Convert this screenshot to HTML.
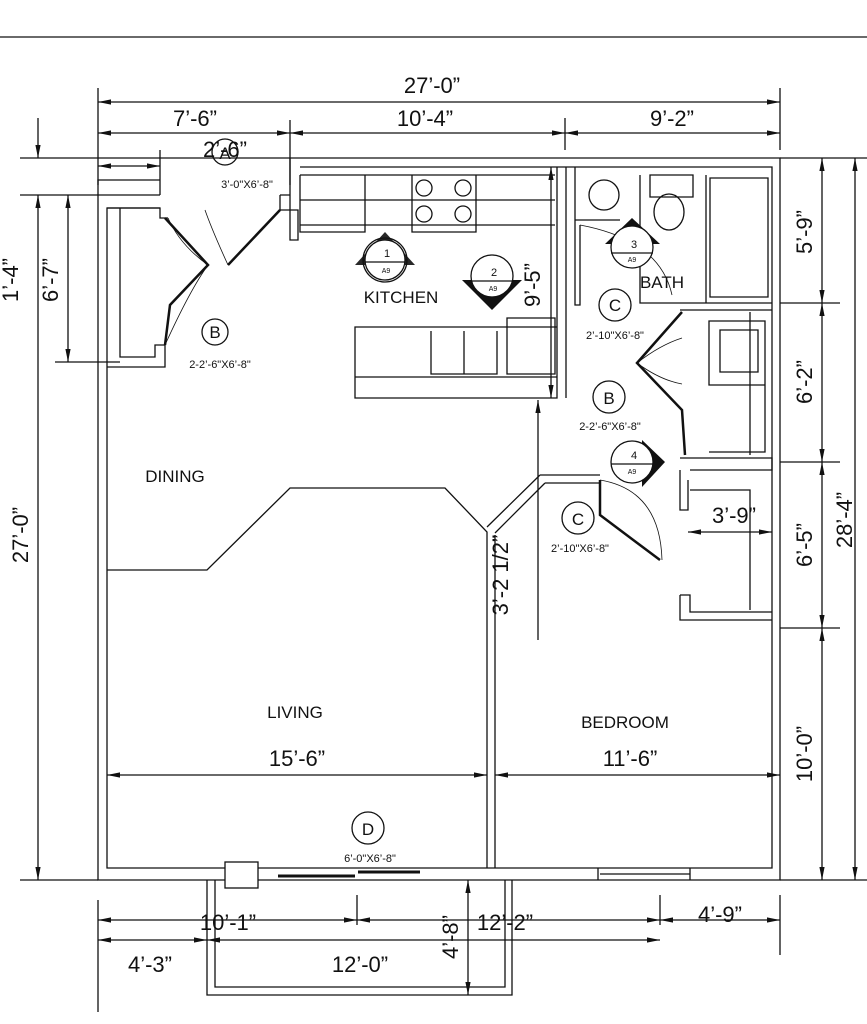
<!DOCTYPE html>
<html><head><meta charset="utf-8"><style>
body{margin:0;background:#fff}
svg{display:block}
text{font-family:"Liberation Sans",sans-serif;fill:#111}
.big{font-size:22px}
.lbl{font-size:17px}
.sm{font-size:11px}
.xs{font-size:7px}
</style></head><body>
<svg width="867" height="1024" viewBox="0 0 867 1024" stroke="#111" fill="none" stroke-width="1.3">
<defs><marker id="a" viewBox="0 0 10 10" refX="10" refY="5" markerWidth="10" markerHeight="10" orient="auto-start-reverse"><path d="M0,3 L10,5 L0,7 Z" fill="#111" stroke="none"/></marker></defs>
<line x1="0" y1="37" x2="867" y2="37"/>
<!-- top dims -->
<line x1="98" y1="88" x2="98" y2="185"/><line x1="780" y1="88" x2="780" y2="150"/>
<line x1="98" y1="102" x2="780" y2="102" marker-start="url(#a)" marker-end="url(#a)"/>
<text x="432" y="93" class="big" text-anchor="middle" stroke="none">27’-0”</text>
<line x1="98" y1="133" x2="290" y2="133" marker-start="url(#a)" marker-end="url(#a)"/>
<line x1="290" y1="133" x2="565" y2="133" marker-start="url(#a)" marker-end="url(#a)"/>
<line x1="565" y1="133" x2="780" y2="133" marker-start="url(#a)" marker-end="url(#a)"/>
<line x1="290" y1="120" x2="290" y2="185"/><line x1="565" y1="118" x2="565" y2="150"/>
<text x="195" y="126" class="big" text-anchor="middle" stroke="none">7’-6”</text>
<text x="425" y="126" class="big" text-anchor="middle" stroke="none">10’-4”</text>
<text x="672" y="126" class="big" text-anchor="middle" stroke="none">9’-2”</text>
<line x1="98" y1="166" x2="160" y2="166" marker-start="url(#a)" marker-end="url(#a)"/>
<line x1="160" y1="150" x2="160" y2="195"/>
<text x="225" y="157" class="big" text-anchor="middle" stroke="none">2’-6”</text>
<circle cx="225" cy="152" r="13"/><text x="225" y="159" class="lbl" text-anchor="middle" stroke="none">A</text>
<text x="247" y="188" class="sm" text-anchor="middle" stroke="none">3’-0"X6’-8"</text>
<line x1="20" y1="158" x2="290" y2="158"/>
<!-- outer walls -->
<path d="M290,158 H780 V880 H98 V195 H160"/>
<path d="M300,167 H772 V868 H107 V208 H160"/>
<path d="M280,195 H290 V158 M280,195 V210 H298 V240 H290 V195"/>
<path d="M98,195 V180 H160"/>
<!-- closet left -->
<path d="M107,208 H160 V218 H168 M120,208 V357 H155 V345 H165 V367 H107"/>
<path d="M165,218 L208,265 L170,305 L165,345" stroke-width="2.5"/>
<path d="M208,265 Q180,245 168,218 M208,265 Q190,290 165,345" stroke-width="0.8"/>
<path d="M228,265 L280,210" stroke-width="2.5"/><path d="M228,265 Q212,230 205,210" stroke-width="0.8"/>
<circle cx="215" cy="332" r="13"/><text x="215" y="338" class="lbl" text-anchor="middle" stroke="none">B</text>
<text x="220" y="368" class="sm" text-anchor="middle" stroke="none">2-2’-6"X6’-8"</text>
<!-- kitchen -->
<path d="M300,175 H555 M300,200 H555 M300,225 H555 M300,175 V232 H365 V175 M412,175 V232 H476 V175"/>
<circle cx="424" cy="188" r="8"/><circle cx="463" cy="188" r="8"/><circle cx="424" cy="214" r="8"/><circle cx="463" cy="214" r="8"/>
<path d="M557,167 V398 H355 V327 H557 M355,377 H557 M431,331 V374 H497 V331 M464,331 V374 M507,318 H555 V374 H507 Z M566,167 V398"/>
<line x1="551" y1="167" x2="551" y2="398" marker-start="url(#a)" marker-end="url(#a)"/>
<line x1="538" y1="400" x2="538" y2="640" marker-start="url(#a)"/>
<text x="540" y="285" class="big" text-anchor="middle" transform="rotate(-90 540 285)" stroke="none">9’-5”</text>
<text x="401" y="303" class="lbl" text-anchor="middle" stroke="none">KITCHEN</text>
<circle cx="385" cy="260" r="22"/><line x1="363" y1="260" x2="407" y2="260"/><path d="M355,265 L385,232 L415,265" fill="#111" stroke="none" opacity=".9"/>
<circle cx="385" cy="260" r="20" fill="#fff"/><line x1="365" y1="262" x2="405" y2="262"/>
<text x="387" y="257" class="sm" text-anchor="middle" stroke="none">1</text><text x="386" y="273" class="xs" text-anchor="middle" stroke="none">A9</text>
<path d="M462,280 L492,310 L522,280 Z" fill="#111" stroke="none"/>
<circle cx="492" cy="276" r="21" fill="#fff"/><line x1="471" y1="281" x2="513" y2="281"/>
<text x="494" y="276" class="sm" text-anchor="middle" stroke="none">2</text><text x="493" y="291" class="xs" text-anchor="middle" stroke="none">A9</text>
<!-- bath -->
<path d="M575,167 V220 H620 M575,220 V305 H580 V225 M640,175 V303 H772 M706,175 V303 M650,175 H693 V197 H650 Z M710,178 H768 V297 H710 Z"/>
<circle cx="604" cy="195" r="15"/><ellipse cx="669" cy="212" rx="15" ry="18"/>
<path d="M580,225 Q660,240 672,295" stroke-width="0.8"/>
<path d="M605,244 L632,218 L660,244 Z" fill="#111" stroke="none"/>
<circle cx="632" cy="247" r="21" fill="#fff"/><line x1="611" y1="253" x2="653" y2="253"/>
<text x="634" y="248" class="sm" text-anchor="middle" stroke="none">3</text><text x="632" y="262" class="xs" text-anchor="middle" stroke="none">A9</text>
<text x="662" y="288" class="lbl" text-anchor="middle" stroke="none">BATH</text>
<circle cx="615" cy="305" r="16"/><text x="615" y="311" class="lbl" text-anchor="middle" stroke="none">C</text>
<text x="615" y="339" class="sm" text-anchor="middle" stroke="none">2’-10"X6’-8"</text>
<!-- closet right -->
<path d="M682,312 L637,363 L682,410 L685,455" stroke-width="2.5"/>
<path d="M637,363 Q660,345 682,338 M637,363 Q660,380 682,384" stroke-width="0.8"/>
<path d="M709,321 H765 V385 H709 Z M709,385 H765 V452 H709 M750,312 V455 M680,310 H772 M680,458 H772 V470 H690 M720,330 H758 V372 H720 Z"/>
<circle cx="609" cy="397" r="16"/><text x="609" y="404" class="lbl" text-anchor="middle" stroke="none">B</text>
<text x="610" y="430" class="sm" text-anchor="middle" stroke="none">2-2’-6"X6’-8"</text>
<path d="M642,440 L665,462 L642,487 Z" fill="#111" stroke="none"/>
<circle cx="632" cy="462" r="21" fill="#fff"/><line x1="611" y1="464" x2="653" y2="464"/>
<text x="634" y="459" class="sm" text-anchor="middle" stroke="none">4</text><text x="632" y="474" class="xs" text-anchor="middle" stroke="none">A9</text>
<!-- bedroom walls -->
<path d="M540,475 H600 M545,483 H600 M540,475 L487,527 M545,483 L495,533"/>
<path d="M600,480 V515 L660,560" stroke-width="2.5"/>
<path d="M600,480 Q660,490 662,560" stroke-width="0.8"/>
<path d="M680,470 V510 H688 V480 M690,490 H750 V610 M680,595 V620 H772 M680,595 H690 V612 H772"/>
<line x1="688" y1="532" x2="772" y2="532" marker-start="url(#a)" marker-end="url(#a)"/>
<text x="734" y="523" class="big" text-anchor="middle" stroke="none">3’-9”</text>
<circle cx="578" cy="518" r="16"/><text x="578" y="525" class="lbl" text-anchor="middle" stroke="none">C</text>
<text x="580" y="552" class="sm" text-anchor="middle" stroke="none">2’-10"X6’-8"</text>
<text x="508" y="575" class="big" text-anchor="middle" transform="rotate(-90 508 575)" stroke="none">3’-2 1/2”</text>
<!-- dining/living -->
<path d="M107,570 H207 L290,488 H445 L487,532 V868 M495,535 V868"/>
<text x="175" y="482" class="lbl" text-anchor="middle" stroke="none">DINING</text>
<text x="295" y="718" class="lbl" text-anchor="middle" stroke="none">LIVING</text>
<text x="625" y="728" class="lbl" text-anchor="middle" stroke="none">BEDROOM</text>
<line x1="107" y1="775" x2="487" y2="775" marker-start="url(#a)" marker-end="url(#a)"/>
<line x1="495" y1="775" x2="780" y2="775" marker-start="url(#a)" marker-end="url(#a)"/>
<text x="297" y="766" class="big" text-anchor="middle" stroke="none">15’-6”</text>
<text x="630" y="766" class="big" text-anchor="middle" stroke="none">11’-6”</text>
<circle cx="368" cy="828" r="16"/><text x="368" y="835" class="lbl" text-anchor="middle" stroke="none">D</text>
<text x="370" y="862" class="sm" text-anchor="middle" stroke="none">6’-0"X6’-8"</text>
<path d="M278,876 H355 M358,872 H420" stroke-width="3"/>
<rect x="225" y="862" width="33" height="26" fill="#fff"/>
<path d="M598,868 V880 M690,868 V880 M600,874 H690"/>
<!-- balcony -->
<path d="M207,880 V995 H512 V880 M215,880 V987 H505 V880"/>
<!-- left dims -->
<line x1="38" y1="195" x2="38" y2="880" marker-start="url(#a)" marker-end="url(#a)"/>
<line x1="38" y1="118" x2="38" y2="158" marker-end="url(#a)"/>
<line x1="20" y1="195" x2="98" y2="195"/><line x1="20" y1="880" x2="98" y2="880"/>
<line x1="68" y1="195" x2="68" y2="362" marker-start="url(#a)" marker-end="url(#a)"/>
<line x1="55" y1="362" x2="120" y2="362"/>
<text x="28" y="535" class="big" text-anchor="middle" transform="rotate(-90 28 535)" stroke="none">27’-0”</text>
<text x="18" y="280" class="big" text-anchor="middle" transform="rotate(-90 18 280)" stroke="none">1’-4”</text>
<text x="58" y="280" class="big" text-anchor="middle" transform="rotate(-90 58 280)" stroke="none">6’-7”</text>
<!-- right dims -->
<line x1="822" y1="158" x2="822" y2="303" marker-start="url(#a)" marker-end="url(#a)"/>
<line x1="822" y1="303" x2="822" y2="462" marker-start="url(#a)" marker-end="url(#a)"/>
<line x1="822" y1="462" x2="822" y2="628" marker-start="url(#a)" marker-end="url(#a)"/>
<line x1="822" y1="628" x2="822" y2="880" marker-start="url(#a)" marker-end="url(#a)"/>
<line x1="855" y1="158" x2="855" y2="880" marker-start="url(#a)" marker-end="url(#a)"/>
<path d="M780,158 H867 M780,303 H840 M780,462 H840 M780,628 H840 M780,880 H867"/>
<text x="812" y="232" class="big" text-anchor="middle" transform="rotate(-90 812 232)" stroke="none">5’-9”</text>
<text x="812" y="382" class="big" text-anchor="middle" transform="rotate(-90 812 382)" stroke="none">6’-2”</text>
<text x="812" y="545" class="big" text-anchor="middle" transform="rotate(-90 812 545)" stroke="none">6’-5”</text>
<text x="812" y="754" class="big" text-anchor="middle" transform="rotate(-90 812 754)" stroke="none">10’-0”</text>
<text x="852" y="520" class="big" text-anchor="middle" transform="rotate(-90 852 520)" stroke="none">28’-4”</text>
<!-- bottom dims -->
<line x1="98" y1="900" x2="98" y2="1012"/><line x1="780" y1="895" x2="780" y2="955"/>
<line x1="357" y1="895" x2="357" y2="925"/><line x1="660" y1="895" x2="660" y2="925"/>
<line x1="98" y1="920" x2="357" y2="920" marker-start="url(#a)" marker-end="url(#a)"/>
<line x1="357" y1="920" x2="660" y2="920" marker-start="url(#a)" marker-end="url(#a)"/>
<line x1="660" y1="920" x2="780" y2="920" marker-start="url(#a)" marker-end="url(#a)"/>
<text x="228" y="930" class="big" text-anchor="middle" stroke="none">10’-1”</text>
<text x="505" y="930" class="big" text-anchor="middle" stroke="none">12’-2”</text>
<text x="720" y="922" class="big" text-anchor="middle" stroke="none">4’-9”</text>
<line x1="98" y1="940" x2="207" y2="940" marker-start="url(#a)" marker-end="url(#a)"/>
<line x1="207" y1="940" x2="660" y2="940" marker-start="url(#a)" marker-end="url(#a)"/>
<text x="150" y="972" class="big" text-anchor="middle" stroke="none">4’-3”</text>
<text x="360" y="972" class="big" text-anchor="middle" stroke="none">12’-0”</text>
<line x1="468" y1="880" x2="468" y2="995" marker-start="url(#a)" marker-end="url(#a)"/>
<text x="458" y="937" class="big" text-anchor="middle" transform="rotate(-90 458 937)" stroke="none">4’-8”</text>
</svg>
</body></html>
